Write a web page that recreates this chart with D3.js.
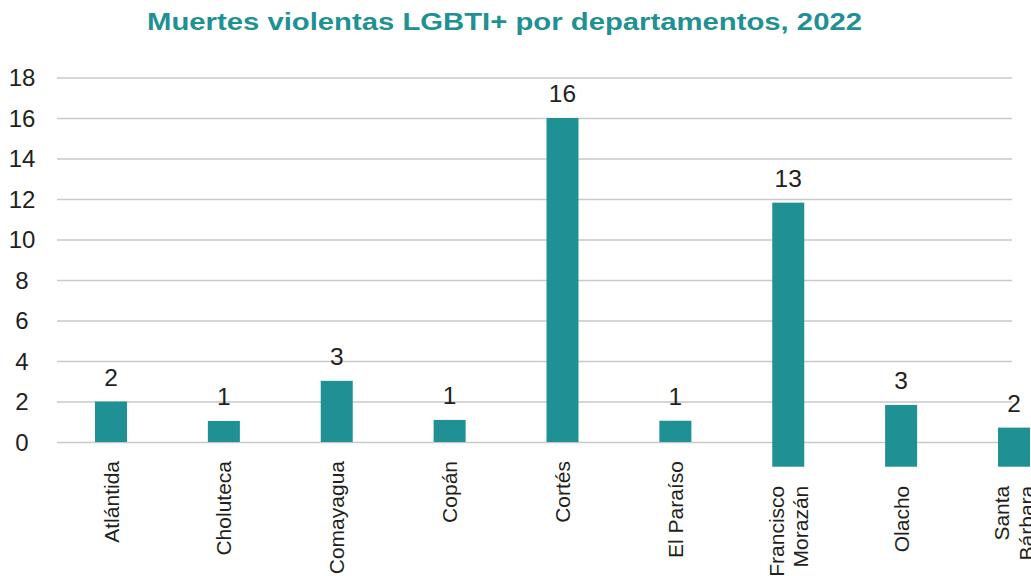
<!DOCTYPE html>
<html>
<head>
<meta charset="utf-8">
<script src="https://cdn.jsdelivr.net/npm/d3@7"></script>
<style>
  body { margin: 0; background: #fff; }
  svg { display: block; font-family: "Liberation Sans", Arial, sans-serif; }
  .grid line { stroke: #c9c9c9; stroke-width: 1.5; }
  .grid .domain { display: none; }
</style>
</head>
<body>
<svg id="chart" width="1031" height="576"></svg>
<script>
// categorias (saltos de linea como en el original)
var departamentos = ["Atlántida", "Choluteca", "Comayagua", "Copán", "Cortés", "El Paraíso", "Francisco\nMorazán", "Olacho", "Santa\nBárbara"];
// etiquetas de datos
var muertes = [2, 1, 3, 1, 16, 1, 13, 3, 2];
// altura de las barras tal como aparecen dibujadas
var barraTope = [2, 1.04, 3.02, 1.09, 16, 1.05, 11.82, 1.83, 0.71];
var barraBase = [0, 0, 0, 0, 0, 0, -1.22, -1.22, -1.22];
var yTicks = [0, 2, 4, 6, 8, 10, 12, 14, 16, 18];

var teal = "#1f9194";
var svg = d3.select("#chart");

var x = d3.scalePoint().domain(departamentos).range([111, 1014]);
var y = d3.scaleLinear().domain([0, 18]).range([442, 77.5]);
var barW = 32;

var data = departamentos.map(function (d, i) {
  return { cat: d, label: muertes[i], top: barraTope[i], base: barraBase[i] };
});

// titulo (ligeramente estirado, como en el original)
svg.append("text")
  .attr("x", 504.5)
  .attr("y", 29.5)
  .attr("text-anchor", "middle")
  .attr("textLength", 715)
  .attr("lengthAdjust", "spacingAndGlyphs")
  .style("font-size", "23.5px")
  .style("font-weight", "bold")
  .style("fill", teal)
  .text("Muertes violentas LGBTI+ por departamentos, 2022");

// lineas de cuadricula
svg.append("g")
  .attr("class", "grid")
  .attr("transform", "translate(57,0)")
  .call(d3.axisLeft(y).tickValues(yTicks).tickSize(-955).tickFormat(""));

// etiquetas del eje y
svg.append("g").selectAll("text")
  .data(yTicks).enter()
  .append("text")
  .attr("x", 22)
  .attr("y", function (d) { return y(d) + 8.5; })
  .attr("text-anchor", "middle")
  .style("font-size", "24px")
  .style("fill", "#231f20")
  .text(function (d) { return d; });

// barras
svg.append("g").selectAll("rect")
  .data(data).enter()
  .append("rect")
  .attr("x", function (d) { return x(d.cat) - barW / 2; })
  .attr("width", barW)
  .attr("y", function (d) { return y(d.top); })
  .attr("height", function (d) { return y(d.base) - y(d.top); })
  .style("fill", teal);

// etiquetas de datos
svg.append("g").selectAll("text")
  .data(data).enter()
  .append("text")
  .attr("x", function (d) { return x(d.cat); })
  .attr("y", function (d) { return y(d.top) - 16; })
  .attr("text-anchor", "middle")
  .style("font-size", "24.5px")
  .style("fill", "#231f20")
  .text(function (d) { return d.label; });

// etiquetas de categorias, giradas
var cats = svg.append("g").selectAll("g")
  .data(data).enter()
  .append("g")
  .attr("transform", function (d) {
    return "translate(" + x(d.cat) + "," + (y(Math.min(d.base, 0)) + 19) + ") rotate(-90)";
  });

cats.each(function (d) {
  var lines = d.cat.split("\n");
  var t = d3.select(this).append("text")
    .attr("text-anchor", "end")
    .style("font-size", "21px")
    .style("fill", "#231f20");
  var lh = 24.5;
  var off = -(lines.length - 1) * lh / 2 + 7.5;
  lines.forEach(function (l, j) {
    t.append("tspan")
      .attr("x", 0)
      .attr("y", off + j * lh)
      .text(l);
  });
});
</script>
</body>
</html>
